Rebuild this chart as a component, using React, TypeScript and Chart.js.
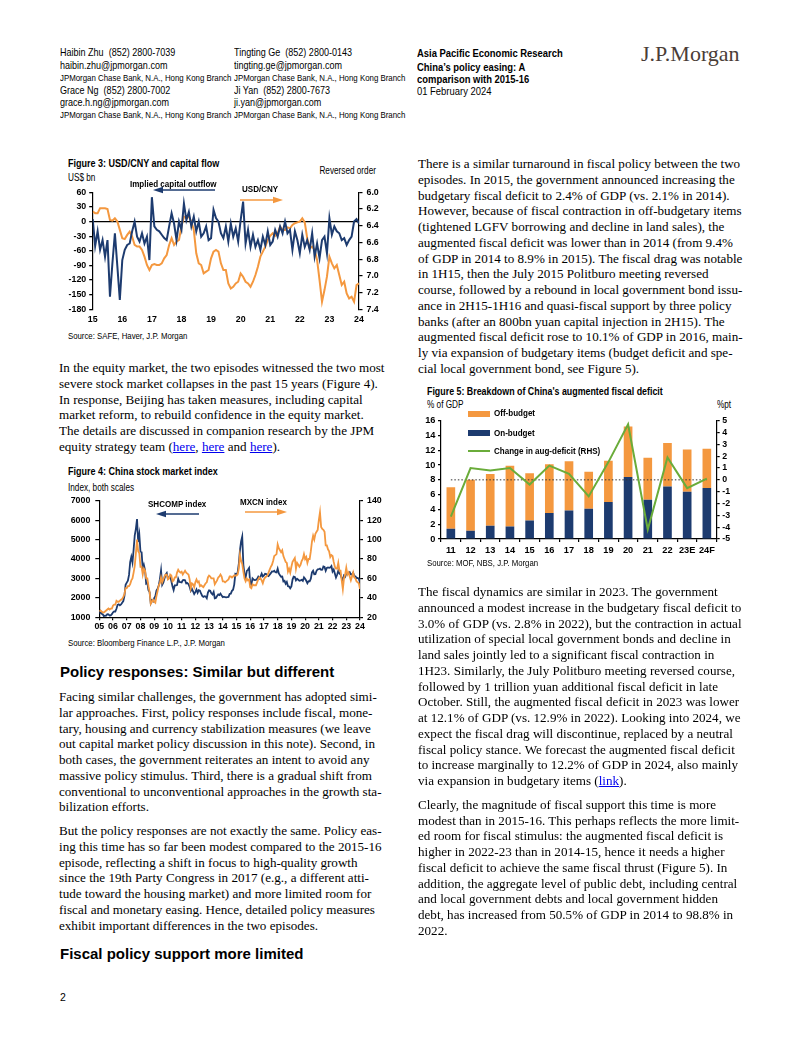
import React, { useEffect, useRef } from "react";
import { Chart, registerables } from "chart.js";
Chart.register(...registerables);

// ---------- data ----------
const fig3StartYear = 2015;
const capitalOutflow = [
  5, -50, -20, -58, -38, -72, -38, -154, -85, -24, -92, -161,
  -79, -58, -48, -45, -20, 0, -31, -41, -24, -45, -31, -79,
  50, -10, -17, -20, -27, -34, -38, -10, 17, -4, -38, 0,
  -17, 37, 3, 20, -10, 10, -20, 0, -31, -24, -10, -38,
  -34, 24, 7, 0, -24, -34, -10, -41, -4, -31, -14, -41,
  3, 41, -45, -17, -52, -27, -52, -38, -58, -31, -48, -20,
  -48, -41, -17, -31, -10, -24, 0, -24, -17, -58, -20, -38,
  -65, -27, -52, -38, -58, -24, -72, -45, -75, -38, -31, -65,
  7, -27, -10, -20, -24, -38, -34, -48, -38, -31, 0, 5,
  -4,
];
const usdCny = [
  6.23, 6.25, 6.25, 6.19, 6.19, 6.19, 6.2, 6.33, 6.34, 6.31, 6.35, 6.45,
  6.55, 6.56, 6.51, 6.47, 6.53, 6.63, 6.65, 6.65, 6.69, 6.77, 6.87, 6.93,
  6.87, 6.86, 6.87, 6.87, 6.85, 6.79, 6.75, 6.63, 6.55, 6.63, 6.59, 6.57,
  6.41, 6.29, 6.31, 6.29, 6.35, 6.45, 6.73, 6.85, 6.87, 6.97, 6.95, 6.93,
  6.79, 6.71, 6.69, 6.71, 6.85, 6.93, 6.93, 7.09, 7.15, 7.13, 7.09, 7.07,
  6.97, 7.01, 7.07, 7.09, 7.13, 7.07, 6.99, 6.89, 6.77, 6.71, 6.65, 6.57,
  6.52, 6.49, 6.52, 6.49, 6.41, 6.45, 6.45, 6.42, 6.43, 6.39, 6.37, 6.36,
  6.35, 6.31, 6.36, 6.55, 6.67, 6.65, 6.69, 6.81, 7.05, 7.31, 7.17, 7.01,
  6.77, 6.85, 6.91, 6.87, 6.99, 7.11, 7.07, 7.21, 7.27, 7.25, 7.31, 7.11,
  7.09,
];

const fig4StartYear = 2005;
const shcomp = [
  1190, 1306, 1181, 1159, 1060, 1080, 1083, 1162, 1155, 1092, 1099, 1161,
  1258, 1299, 1298, 1440, 1641, 1672, 1612, 1658, 1752, 1837, 2099, 2675,
  2786, 2881, 3183, 3841, 4109, 3820, 4471, 5218, 5552, 6050, 4871, 5261,
  4383, 4348, 3473, 3693, 3433, 2736, 2775, 2397, 2293, 1729, 1871, 1821,
  1991, 2082, 2373, 2477, 2633, 2959, 3412, 2667, 2779, 2996, 3195, 3277,
  2989, 3051, 3110, 2870, 2592, 2398, 2638, 2639, 2656, 2979, 2820, 2808,
  2790, 2905, 2928, 2911, 2743, 2762, 2701, 2568, 2359, 2468, 2333, 2199,
  2292, 2428, 2262, 2397, 2373, 2225, 2103, 2047, 2086, 2069, 1980, 2269,
  2385, 2365, 2237, 2178, 2301, 1979, 1994, 2098, 2175, 2141, 2220, 2116,
  2033, 2056, 2033, 2026, 2039, 2048, 2201, 2217, 2364, 2420, 2683, 3235,
  3210, 3310, 3748, 4442, 4900, 5150, 3700, 3206, 3053, 3383, 3445, 3539,
  2738, 2688, 3004, 2938, 2917, 2930, 2979, 3085, 3005, 3100, 3250, 3104,
  3159, 3242, 3223, 3155, 3117, 3192, 3273, 3361, 3349, 3393, 3317, 3307,
  3500, 3259, 3169, 3082, 3095, 2847, 2876, 2725, 2821, 2603, 2588, 2494,
  2585, 2941, 3091, 3078, 2899, 2979, 2933, 2886, 2905, 2929, 2872, 3050,
  2977, 2880, 2750, 2860, 2852, 2985, 3310, 3396, 3218, 3225, 3392, 3473,
  3483, 3509, 3441, 3447, 3615, 3591, 3397, 3544, 3568, 3547, 3564, 3640,
  3361, 3462, 3252, 3047, 3186, 3399, 3253, 3202, 3024, 2893, 3151, 3089,
  3255, 3280, 3273, 3323, 3205, 3202, 3291, 3120, 3110, 3018, 3030, 2975,
  2788,
];
const mxcn = [
  26, 27, 26, 25, 25, 26, 27, 28, 29, 28, 29, 29,
  32, 33, 33, 37, 36, 36, 37, 38, 39, 41, 44, 50,
  50, 52, 52, 54, 58, 60, 66, 73, 86, 100, 88, 86,
  72, 72, 64, 70, 68, 60, 60, 52, 46, 34, 36, 38,
  36, 35, 42, 47, 53, 55, 61, 56, 59, 62, 64, 64,
  59, 60, 64, 63, 57, 58, 61, 61, 66, 69, 67, 66,
  67, 64, 66, 68, 66, 65, 64, 59, 50, 55, 54, 51,
  56, 59, 56, 57, 52, 53, 52, 51, 53, 55, 56, 61,
  63, 62, 60, 60, 60, 54, 56, 58, 61, 62, 64, 62,
  57, 57, 56, 57, 58, 59, 62, 62, 61, 62, 63, 63,
  63, 64, 70, 84, 78, 75, 67, 60, 57, 60, 58, 59,
  51, 50, 54, 53, 53, 53, 56, 59, 61, 60, 58, 55,
  59, 61, 62, 63, 66, 69, 72, 74, 78, 83, 84, 85,
  95, 91, 89, 87, 89, 83, 80, 77, 76, 67, 70, 66,
  72, 77, 79, 81, 70, 76, 74, 72, 74, 78, 80, 85,
  80, 82, 76, 80, 80, 88, 98, 104, 100, 106, 108, 110,
  120, 128, 113, 111, 110, 108, 94, 94, 90, 88, 82, 84,
  83, 77, 72, 70, 70, 76, 68, 68, 58, 49, 60, 64,
  71, 64, 66, 62, 58, 62, 66, 61, 60, 57, 56, 55,
  49,
];

const fiscalYears = ["11", "12", "13", "14", "15", "16", "17", "18", "19", "20", "21", "22", "23E", "24F"];
const onBudget = [1.4, 1.1, 1.8, 1.7, 2.5, 3.5, 3.85, 4.1, 5.0, 8.4, 5.3, 7.1, 6.4, 6.9];
const offBudget = [5.6, 6.9, 7.0, 8.2, 6.4, 6.6, 6.65, 5.0, 5.6, 6.8, 5.7, 5.9, 5.7, 5.3];
const augDeficitChange = [-3.1, 1.0, 0.8, 1.0, -0.4, 1.2, 0.5, -1.4, 1.5, 4.7, -4.2, 1.9, -0.7, 0.1];

// ---------- fonts ----------
function hasFont(name: string): boolean {
  try {
    const c = document.createElement("canvas").getContext("2d")!;
    const s = "abcdefghijklmnopqrstuvwxyzABCDEFGHIJ0123456789";
    c.font = "40px monospace";
    const a = c.measureText(s).width;
    c.font = `40px '${name}', monospace`;
    const b = c.measureText(s).width;
    return Math.abs(a - b) > 0.5;
  } catch (e) {
    return false;
  }
}
const NARROW = hasFont("Liberation Sans Narrow");
const SANS = NARROW ? "'Liberation Sans Narrow', 'Arial Narrow', sans-serif" : "'Liberation Sans', Arial, sans-serif";
const CS = NARROW ? 1 : 0.84;
const SERIF = "'Liberation Serif', 'Times New Roman', serif";
const ARIAL = "'Liberation Sans', Arial, sans-serif";

const NAVY = "#1d3b6f";
const ORANGE = "#f4983f";
const GREEN = "#6aac3a";

// ---------- html helpers ----------
type TP = { x: number; y: number; s: number; b?: boolean; c?: string; anchor?: "left" | "right"; f?: "n" | "a" | "s"; children: any };
function Txt({ x, y, s, b, c, anchor, f = "n", children }: TP) {
  const family = f === "s" ? SERIF : f === "a" ? ARIAL : SANS;
  const scale = f === "n" && !NARROW ? 0.82 : 1;
  const style: any = {
    position: "absolute",
    top: y - s * 0.6,
    fontFamily: family,
    fontSize: s,
    lineHeight: `${s * 1.2}px`,
    fontWeight: b ? "bold" : "normal",
    color: c || "#000",
    whiteSpace: "nowrap",
  };
  if (anchor === "right") {
    style.right = 802 - x;
    style.transformOrigin = "right center";
  } else {
    style.left = x;
    style.transformOrigin = "left center";
  }
  if (scale !== 1) style.transform = `scaleX(${scale})`;
  return <div style={style}>{children}</div>;
}

function Arrow({ x1, x2, y, color, head }: { x1: number; x2: number; y: number; color: string; head: "left" | "right" }) {
  const w = x2 - x1;
  return (
    <svg style={{ position: "absolute", left: x1, top: y - 5 }} width={w} height={10}>
      {head === "left" ? (
        <>
          <line x1={7} y1={5} x2={w} y2={5} stroke={color} strokeWidth={1.6} />
          <polygon points={`0,5 10,1.8 10,8.2`} fill={color} />
        </>
      ) : (
        <>
          <line x1={0} y1={5} x2={w - 7} y2={5} stroke={color} strokeWidth={1.6} />
          <polygon points={`${w},5 ${w - 10},1.8 ${w - 10},8.2`} fill={color} />
        </>
      )}
    </svg>
  );
}

function renderLinks(line: string) {
  const parts = line.split(/(\[[^\]]+\])/);
  return parts.map((p, i) =>
    p.startsWith("[") ? (
      <span key={i} style={{ color: "#0000ee", textDecoration: "underline" }}>
        {p.slice(1, -1)}
      </span>
    ) : (
      <React.Fragment key={i}>{p}</React.Fragment>
    )
  );
}

const STEP = 15.75;
function Lines({ x, y0, lines }: { x: number; y0: number; lines: string[] }) {
  return (
    <>
      {lines.map((ln, i) => (
        <div
          key={i}
          style={{
            position: "absolute",
            left: x,
            top: y0 + i * STEP - STEP / 2,
            fontFamily: SERIF,
            fontSize: 13.1,
            lineHeight: `${STEP}px`,
            whiteSpace: "nowrap",
            color: "#000",
          }}
        >
          {renderLinks(ln)}
        </div>
      ))}
    </>
  );
}

// ---------- chart helpers ----------
type Box = { L: number; T: number; W: number; H: number; l: number; t: number; r: number; b: number };
const fitW = (w: number) => (s: any) => {
  s.width = w;
  s.paddingTop = 0;
  s.paddingBottom = 0;
};
const fitH = (h: number) => (s: any) => {
  s.height = h;
  s.paddingLeft = 0;
  s.paddingRight = 0;
};
const tickFont = (size = 10.5) => ({ family: SANS, size: size * CS, weight: "bold" as const });
const plain = (v: number) => String(v);

function ChartCanvas({ box, make }: { box: Box; make: () => any }) {
  const ref = useRef<HTMLCanvasElement>(null);
  useEffect(() => {
    const ch = new Chart(ref.current!, make());
    return () => ch.destroy();
  }, []);
  return (
    <div style={{ position: "absolute", left: box.L, top: box.T, width: box.W, height: box.H }}>
      <canvas ref={ref} width={box.W} height={box.H} style={{ width: box.W, height: box.H, display: "block" }} />
    </div>
  );
}

const fig3Box: Box = { L: 58, T: 184, W: 332, H: 146, l: 92.7, t: 192.3, r: 359, b: 309.3 };
const fig4Box: Box = { L: 58, T: 493, W: 332, H: 143, l: 99.3, t: 500.7, r: 360, b: 617.3 };
const fig5Box: Box = { L: 413, T: 413, W: 332, H: 147, l: 441, t: 420.7, r: 716.7, b: 539 };

function monthly(start: number, vals: number[]) {
  return vals.map((v, i) => ({ x: start + i / 12, y: v }));
}

function fig3Config() {
  const B = fig3Box;
  return {
    type: "line",
    data: {
      datasets: [
        { label: "Implied capital outflow", data: monthly(fig3StartYear, capitalOutflow), yAxisID: "y", borderColor: NAVY, borderWidth: 2, pointRadius: 0, order: 0 },
        { label: "USD/CNY", data: monthly(fig3StartYear, usdCny), yAxisID: "y1", borderColor: ORANGE, borderWidth: 2, pointRadius: 0, order: 1 },
      ],
    },
    options: {
      responsive: false,
      animation: false,
      layout: { padding: { top: B.t - B.T, left: 0, right: 0, bottom: 0 } },
      plugins: { legend: { display: false }, tooltip: { enabled: false } },
      scales: {
        x: {
          type: "linear",
          min: 2015,
          max: 2024,
          afterFit: fitH(B.T + B.H - B.b),
          grid: { display: false, drawTicks: false },
          border: { display: false },
          ticks: { stepSize: 1, autoSkip: false, maxRotation: 0, padding: 4.5, color: "#000", font: tickFont(), callback: (v: number) => String(v % 100).padStart(2, "0") },
        },
        y: {
          position: "left",
          min: -180,
          max: 60,
          afterFit: fitW(B.l - B.L),
          border: { display: true, color: "#000", width: 1.2 },
          grid: {
            drawOnChartArea: true,
            color: (ctx: any) => (ctx.tick && ctx.tick.value === 0 ? "#000" : "rgba(0,0,0,0)"),
            tickColor: "#000",
            tickLength: 3.5,
            lineWidth: 1.3,
          },
          ticks: { stepSize: 30, autoSkip: false, padding: 3, color: "#000", font: tickFont(), callback: plain },
        },
        y1: {
          position: "right",
          reverse: true,
          min: 6.0,
          max: 7.4,
          afterFit: fitW(B.L + B.W - B.r),
          border: { display: true, color: "#000", width: 1.2 },
          grid: { drawOnChartArea: false, tickColor: "#000", tickLength: 3.5, lineWidth: 1.2 },
          ticks: { stepSize: 0.2, autoSkip: false, padding: 4, color: "#000", font: tickFont(), callback: (v: number) => v.toFixed(1) },
        },
      },
    },
  };
}

function fig4Config() {
  const B = fig4Box;
  return {
    type: "line",
    data: {
      datasets: [
        { label: "SHCOMP index", data: monthly(fig4StartYear, shcomp), yAxisID: "y", borderColor: NAVY, borderWidth: 1.8, pointRadius: 0, order: 1 },
        { label: "MXCN index", data: monthly(fig4StartYear, mxcn), yAxisID: "y1", borderColor: ORANGE, borderWidth: 1.8, pointRadius: 0, order: 0 },
      ],
    },
    options: {
      responsive: false,
      animation: false,
      layout: { padding: { top: B.t - B.T, left: 0, right: 0, bottom: 0 } },
      plugins: { legend: { display: false }, tooltip: { enabled: false } },
      scales: {
        x: {
          type: "linear",
          min: 2005,
          max: 2024,
          afterFit: fitH(B.T + B.H - B.b),
          grid: { drawOnChartArea: false, drawTicks: true, tickLength: 3, tickColor: "#000", lineWidth: 1.2 },
          border: { display: true, color: "#000", width: 1.2 },
          ticks: { stepSize: 1, autoSkip: false, maxRotation: 0, padding: 1, color: "#000", font: tickFont(), callback: (v: number) => String(v % 100).padStart(2, "0") },
        },
        y: {
          position: "left",
          min: 1000,
          max: 7000,
          afterFit: fitW(B.l - B.L),
          border: { display: true, color: "#000", width: 1.2 },
          grid: { drawOnChartArea: false, tickColor: "#000", tickLength: 4, lineWidth: 1.2 },
          ticks: { stepSize: 1000, autoSkip: false, padding: 5, color: "#000", font: tickFont(), callback: plain },
        },
        y1: {
          position: "right",
          min: 20,
          max: 140,
          afterFit: fitW(B.L + B.W - B.r),
          border: { display: true, color: "#000", width: 1.2 },
          grid: { drawOnChartArea: false, tickColor: "#000", tickLength: 3, lineWidth: 1.2 },
          ticks: { stepSize: 20, autoSkip: false, padding: 4, color: "#000", font: tickFont(), callback: plain },
        },
      },
    },
  };
}

const zeroRefLine = {
  id: "zeroRefLine",
  beforeDatasetDraw(chart: any, args: any) {
    if (args.index !== 0) return;
    const x = chart.scales.x;
    const y1 = chart.scales.y1;
    const yy = y1.getPixelForValue(0);
    const ctx = chart.ctx;
    ctx.save();
    ctx.strokeStyle = "#333";
    ctx.lineWidth = 1;
    ctx.setLineDash([1.5, 2]);
    ctx.beginPath();
    ctx.moveTo(x.getPixelForValue(0), yy);
    ctx.lineTo(x.getPixelForValue(fiscalYears.length - 1), yy);
    ctx.stroke();
    ctx.restore();
  },
};

function fig5Config() {
  const B = fig5Box;
  return {
    type: "bar",
    data: {
      labels: fiscalYears,
      datasets: [
        { type: "line", label: "Change in aug-deficit (RHS)", data: augDeficitChange, yAxisID: "y1", borderColor: GREEN, borderWidth: 2, pointRadius: 0, order: 0 },
        { type: "bar", label: "On-budget", data: onBudget, yAxisID: "y", backgroundColor: NAVY, stack: "s", barPercentage: 0.44, categoryPercentage: 1, order: 2 },
        { type: "bar", label: "Off-budget", data: offBudget, yAxisID: "y", backgroundColor: ORANGE, stack: "s", barPercentage: 0.44, categoryPercentage: 1, order: 2 },
      ],
    },
    plugins: [zeroRefLine],
    options: {
      responsive: false,
      animation: false,
      layout: { padding: { top: B.t - B.T, left: 0, right: 0, bottom: 0 } },
      plugins: { legend: { display: false }, tooltip: { enabled: false } },
      scales: {
        x: {
          stacked: true,
          afterFit: fitH(B.T + B.H - B.b),
          grid: { drawOnChartArea: false, drawTicks: true, tickLength: 3, tickColor: "#000", lineWidth: 1.2, offset: true },
          border: { display: true, color: "#000", width: 1.2 },
          ticks: { autoSkip: false, maxRotation: 0, padding: 3, color: "#000", font: tickFont(11) },
        },
        y: {
          stacked: true,
          position: "left",
          min: 0,
          max: 16,
          afterFit: fitW(B.l - B.L),
          border: { display: true, color: "#000", width: 1.2 },
          grid: { drawOnChartArea: false, tickColor: "#000", tickLength: 3, lineWidth: 1.2 },
          ticks: { stepSize: 2, autoSkip: false, padding: 2.5, color: "#000", font: tickFont(11), callback: plain },
        },
        y1: {
          position: "right",
          min: -5,
          max: 5,
          afterFit: fitW(B.L + B.W - B.r),
          border: { display: true, color: "#000", width: 1.2 },
          grid: { drawOnChartArea: false, tickColor: "#000", tickLength: 3, lineWidth: 1.2 },
          ticks: { stepSize: 1, autoSkip: false, padding: 2.5, color: "#000", font: tickFont(10.5), callback: plain },
        },
      },
    },
  };
}

// ---------- body text ----------
const leftP1 = [
  "In the equity market, the two episodes witnessed the two most",
  "severe stock market collapses in the past 15 years (Figure 4).",
  "In response, Beijing has taken measures, including capital",
  "market reform, to rebuild confidence in the equity market.",
  "The details are discussed in companion research by the JPM",
  "equity strategy team ([here], [here] and [here]).",
];
const leftP2 = [
  "Facing similar challenges, the government has adopted simi-",
  "lar approaches. First, policy responses include fiscal, mone-",
  "tary, housing and currency stabilization measures (we leave",
  "out capital market policy discussion in this note). Second, in",
  "both cases, the government reiterates an intent to avoid any",
  "massive policy stimulus. Third, there is a gradual shift from",
  "conventional to unconventional approaches in the growth sta-",
  "bilization efforts.",
];
const leftP3 = [
  "But the policy responses are not exactly the same. Policy eas-",
  "ing this time has so far been modest compared to the 2015-16",
  "episode, reflecting a shift in focus to high-quality growth",
  "since the 19th Party Congress in 2017 (e.g., a different atti-",
  "tude toward the housing market) and more limited room for",
  "fiscal and monetary easing. Hence, detailed policy measures",
  "exhibit important differences in the two episodes.",
];
const rightP1 = [
  "There is a similar turnaround in fiscal policy between the two",
  "episodes. In 2015, the government announced increasing the",
  "budgetary fiscal deficit to 2.4% of GDP (vs. 2.1% in 2014).",
  "However, because of fiscal contraction in off-budgetary items",
  "(tightened LGFV borrowing and decline in land sales), the",
  "augmented fiscal deficit was lower than in 2014 (from 9.4%",
  "of GDP in 2014 to 8.9% in 2015). The fiscal drag was notable",
  "in 1H15, then the July 2015 Politburo meeting reversed",
  "course, followed by a rebound in local government bond issu-",
  "ance in 2H15-1H16 and quasi-fiscal support by three policy",
  "banks (after an 800bn yuan capital injection in 2H15). The",
  "augmented fiscal deficit rose to 10.1% of GDP in 2016, main-",
  "ly via expansion of budgetary items (budget deficit and spe-",
  "cial local government bond, see Figure 5).",
];
const rightP2 = [
  "The fiscal dynamics are similar in 2023. The government",
  "announced a modest increase in the budgetary fiscal deficit to",
  "3.0% of GDP (vs. 2.8% in 2022), but the contraction in actual",
  "utilization of special local government bonds and decline in",
  "land sales jointly led to a significant fiscal contraction in",
  "1H23. Similarly, the July Politburo meeting reversed course,",
  "followed by 1 trillion yuan additional fiscal deficit in late",
  "October. Still, the augmented fiscal deficit in 2023 was lower",
  "at 12.1% of GDP (vs. 12.9% in 2022). Looking into 2024, we",
  "expect the fiscal drag will discontinue, replaced by a neutral",
  "fiscal policy stance. We forecast the augmented fiscal deficit",
  "to increase marginally to 12.2% of GDP in 2024, also mainly",
  "via expansion in budgetary items ([link]).",
];
const rightP3 = [
  "Clearly, the magnitude of fiscal support this time is more",
  "modest than in 2015-16. This perhaps reflects the more limit-",
  "ed room for fiscal stimulus: the augmented fiscal deficit is",
  "higher in 2022-23 than in 2014-15, hence it needs a higher",
  "fiscal deficit to achieve the same fiscal thrust (Figure 5). In",
  "addition, the aggregate level of public debt, including central",
  "and local government debts and local government hidden",
  "debt, has increased from 50.5% of GDP in 2014 to 98.8% in",
  "2022.",
];

export default function App() {
  const lp2 = 697;
  const lp3 = lp2 + leftP2.length * STEP + 8;
  const rp2 = 592;
  const rp3 = rp2 + rightP2.length * STEP + 8;
  return (
    <div style={{ position: "absolute", left: 0, top: 0, width: 802, height: 1037, background: "#fff", overflow: "hidden" }}>
      {/* header */}
      <Txt x={60} y={53} s={11}>Haibin Zhu&nbsp; (852) 2800-7039</Txt>
      <Txt x={60} y={66} s={11}>haibin.zhu@jpmorgan.com</Txt>
      <Txt x={60} y={77.5} s={9.6}>JPMorgan Chase Bank, N.A., Hong Kong Branch</Txt>
      <Txt x={60} y={91} s={11}>Grace Ng&nbsp; (852) 2800-7002</Txt>
      <Txt x={60} y={103} s={11}>grace.h.ng@jpmorgan.com</Txt>
      <Txt x={60} y={114.5} s={9.6}>JPMorgan Chase Bank, N.A., Hong Kong Branch</Txt>
      <Txt x={234} y={53} s={11}>Tingting Ge&nbsp; (852) 2800-0143</Txt>
      <Txt x={234} y={66} s={11}>tingting.ge@jpmorgan.com</Txt>
      <Txt x={234} y={77.5} s={9.6}>JPMorgan Chase Bank, N.A., Hong Kong Branch</Txt>
      <Txt x={234} y={91} s={11}>Ji Yan&nbsp; (852) 2800-7673</Txt>
      <Txt x={234} y={103} s={11}>ji.yan@jpmorgan.com</Txt>
      <Txt x={234} y={114.5} s={9.6}>JPMorgan Chase Bank, N.A., Hong Kong Branch</Txt>
      <Txt x={417} y={54} s={11.5} b>Asia Pacific Economic Research</Txt>
      <Txt x={417} y={68} s={11.5} b>China’s policy easing: A</Txt>
      <Txt x={417} y={79.5} s={11.5} b>comparison with 2015-16</Txt>
      <Txt x={417} y={92} s={11.5}>01 February 2024</Txt>
      <Txt x={641} y={54} s={22} f="s" c="#4a3d37">J.P.Morgan</Txt>

      {/* Figure 3 */}
      <Txt x={68} y={164} s={11} b>Figure 3: USD/CNY and capital flow</Txt>
      <Txt x={68} y={178} s={10}>US$ bn</Txt>
      <Txt x={376} y={170.5} s={10} anchor="right">Reversed order</Txt>
      <ChartCanvas box={fig3Box} make={fig3Config} />
      <Txt x={130} y={184} s={9.8} b>Implied capital outflow</Txt>
      <Arrow x1={153} x2={215} y={190} color={NAVY} head="left" />
      <Txt x={242} y={188.5} s={9.8} b>USD/CNY</Txt>
      <Arrow x1={240} x2={283} y={199.5} color={ORANGE} head="right" />
      <Txt x={68} y={336} s={9.5}>Source: SAFE, Haver, J.P. Morgan</Txt>

      <Lines x={59} y0={368} lines={leftP1} />

      {/* Figure 4 */}
      <Txt x={68} y={472} s={11} b>Figure 4: China stock market index</Txt>
      <Txt x={68} y={488} s={10}>Index, both scales</Txt>
      <ChartCanvas box={fig4Box} make={fig4Config} />
      <Txt x={148} y={504} s={9.8} b>SHCOMP index</Txt>
      <Arrow x1={156} x2={199} y={514} color={NAVY} head="left" />
      <Txt x={240} y={502} s={9.8} b>MXCN index</Txt>
      <Arrow x1={245} x2={287} y={512} color={ORANGE} head="right" />
      <Txt x={68} y={643} s={9.5}>Source: Bloomberg Finance L.P., J.P. Morgan</Txt>

      <Txt x={60} y={672} s={15} b f="a">Policy responses: Similar but different</Txt>
      <Lines x={59} y0={lp2} lines={leftP2} />
      <Lines x={59} y0={lp3} lines={leftP3} />
      <Txt x={60} y={954} s={15} b f="a">Fiscal policy support more limited</Txt>
      <Txt x={60} y={997} s={10.5} f="a">2</Txt>

      {/* right column */}
      <Lines x={418} y0={164} lines={rightP1} />

      {/* Figure 5 */}
      <Txt x={427} y={391.5} s={10.8} b>Figure 5: Breakdown of China's augmented fiscal deficit</Txt>
      <Txt x={427} y={405} s={10}>% of GDP</Txt>
      <Txt x={717} y={405} s={10}>%pt</Txt>
      <ChartCanvas box={fig5Box} make={fig5Config} />
      <div style={{ position: "absolute", left: 468, top: 410.5, width: 22, height: 6.5, background: ORANGE }} />
      <Txt x={494} y={413.3} s={9.8} b>Off-budget</Txt>
      <div style={{ position: "absolute", left: 468, top: 429.7, width: 22, height: 6.5, background: NAVY }} />
      <Txt x={494} y={432.7} s={9.8} b>On-budget</Txt>
      <div style={{ position: "absolute", left: 468, top: 450, width: 22, height: 2, background: GREEN }} />
      <Txt x={494} y={451} s={9.8} b>Change in aug-deficit (RHS)</Txt>
      <Txt x={427} y={563} s={9.5}>Source: MOF, NBS, J.P. Morgan</Txt>

      <Lines x={418} y0={rp2} lines={rightP2} />
      <Lines x={418} y0={rp3} lines={rightP3} />
    </div>
  );
}
